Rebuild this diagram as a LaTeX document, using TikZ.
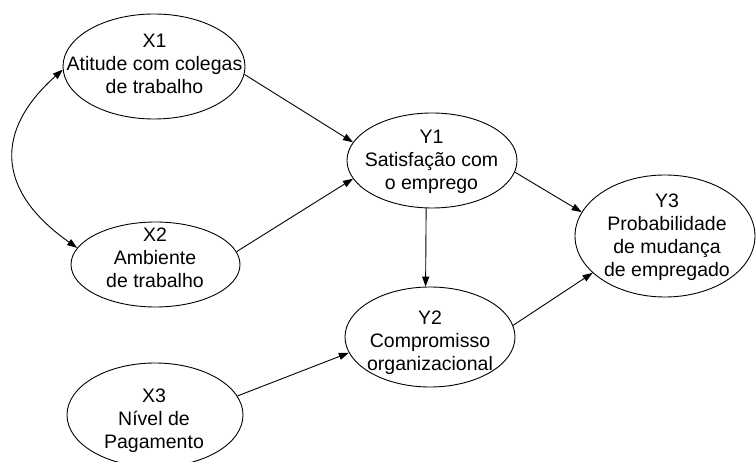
\documentclass[tikz,border=0pt]{standalone}
\usepackage{fontspec}
\setmainfont{Liberation Sans}
\usetikzlibrary{shapes.geometric,arrows.meta}
\tikzset{
  concept/.style={draw=black, line width=0.9pt, ellipse, inner sep=0pt},
  label/.style={align=center, inner sep=0pt, font=\fontsize{19.5}{23}\selectfont},
  link/.style={draw=black, line width=0.9pt, -{Triangle[length=10pt,width=7pt]}},
  duallink/.style={draw=black, line width=0.9pt, {Triangle[length=10pt,width=7pt]}-{Triangle[length=10pt,width=7pt]}}
}
\begin{document}
\begin{tikzpicture}[x=1pt,y=-1pt]
\useasboundingbox[fill=white] (0,0) rectangle (756,462);
% ellipses
\node[concept, minimum width=182pt, minimum height=105pt] (X1) at (154,66.5) {};
\node[concept, minimum width=169pt, minimum height=85pt] (X2) at (155.5,264.5) {};
\node[concept, minimum width=176pt, minimum height=104pt] (X3) at (155,415) {};
\node[concept, minimum width=170pt, minimum height=95pt] (Y1) at (432,160.5) {};
\node[concept, minimum width=170pt, minimum height=100pt] (Y2) at (430,337) {};
\node[concept, minimum width=180pt, minimum height=122pt] (Y3) at (665,236) {};
% texts
\node[label] (tX1) at (154.5,66.4) {\strut X1\\Atitude com colegas\\de trabalho\strut};
\node[label] (tX2) at (155,260) {\strut X2\\Ambiente\\de trabalho\strut};
\node[label] (tX3) at (154,420.5) {\strut X3\\Nível de\\Pagamento\strut};
\node[label] (tY1) at (431.5,161.5) {\strut Y1\\Satisfação com\\o emprego\strut};
\node[label] (tY2) at (430,342.5) {\strut Y2\\Compromisso\\organizacional\strut};
\node[label] (tY3) at (667,237) {\strut Y3\\Probabilidade\\de mudança\\de empregado\strut};
% connectors
\draw[link] (X1.355) -- (Y1.167.5);
\draw[link] (X2.9) -- (Y1.193);
\draw[link] (Y1.263) -- (Y2.95);
\draw[link] (Y1.352) -- (Y3.164);
\draw[link] (Y2.8) -- (Y3.207);
\draw[link] (X3.13) -- (Y2.191);
\draw[duallink] (X1.182) .. controls (-5,130) and (-5,190) .. (X2.168);
\end{tikzpicture}
\end{document}
